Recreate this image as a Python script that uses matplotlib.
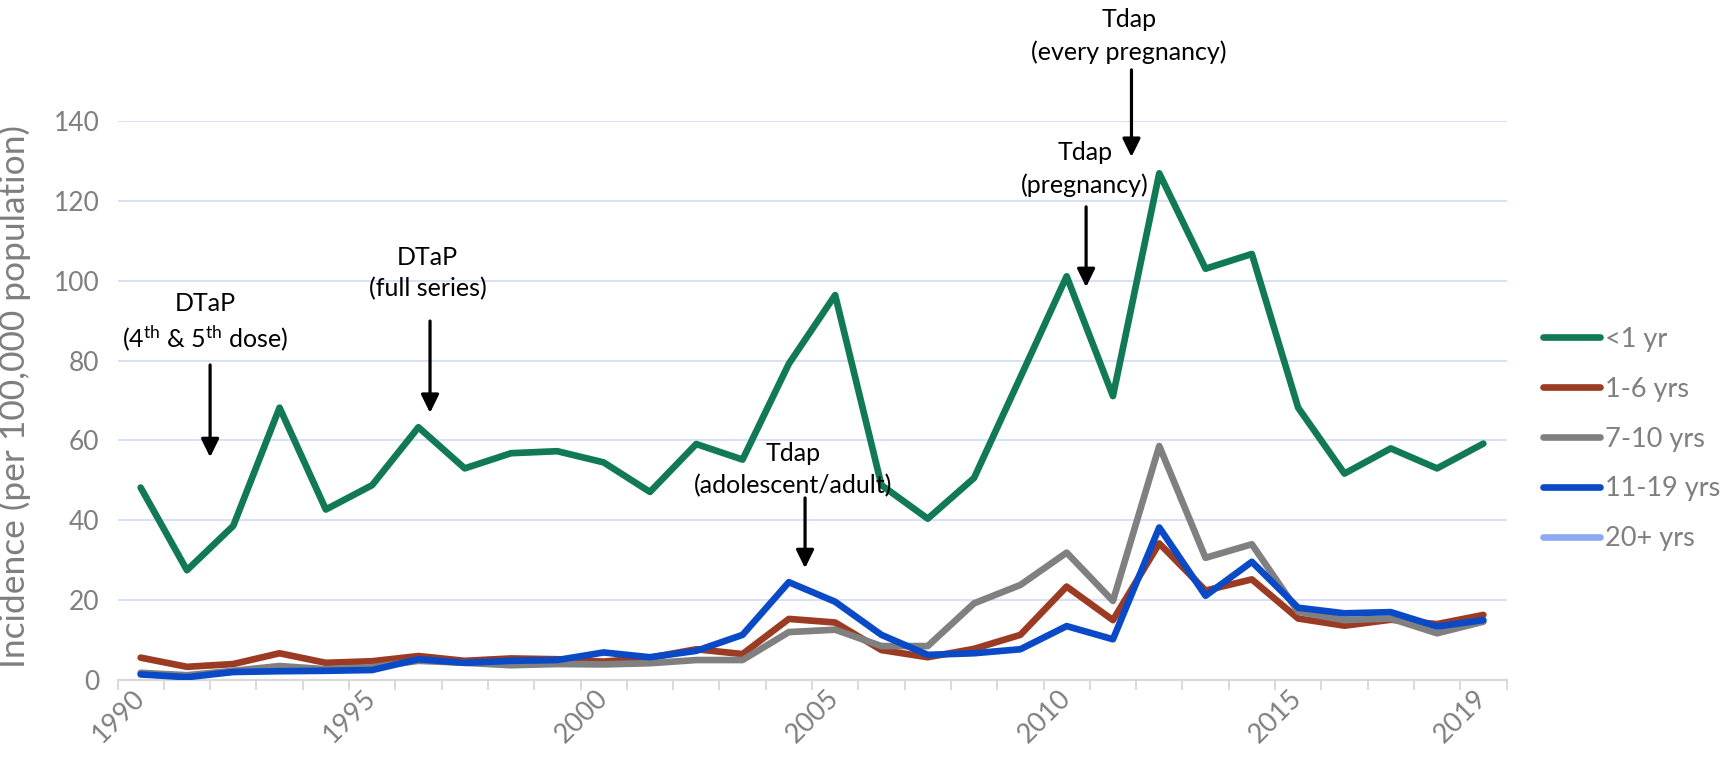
import numpy as np
import matplotlib
matplotlib.use("Agg")
import matplotlib.pyplot as plt
from matplotlib.ticker import FixedLocator, MultipleLocator

plt.rcParams['font.family'] = ['Lato', 'DejaVu Sans']
plt.rcParams['mathtext.fontset'] = 'custom'
plt.rcParams['mathtext.rm'] = 'Lato'
plt.rcParams['mathtext.it'] = 'Lato:italic'
plt.rcParams['mathtext.bf'] = 'Lato:bold'

# Pertussis incidence per 100,000 population, by age group
years = list(range(1990, 2020))
under_1 = [48.2, 27.5, 38.6, 68.2, 42.7, 48.8, 63.3, 53.0, 56.8, 57.3,
           54.5, 47.1, 59.1, 55.2, 79.2, 96.4, 48.8, 40.4, 50.6, 75.8,
           101.1, 71.1, 126.9, 103.0, 106.7, 68.2, 51.7, 58.0, 53.0, 59.2]
age_1_6 = [5.6, 3.3, 4.0, 6.7, 4.3, 4.7, 6.0, 4.8, 5.4, 5.2,
           4.6, 5.6, 7.7, 6.5, 15.3, 14.4, 7.5, 5.7, 7.8, 11.3,
           23.4, 15.0, 34.2, 22.4, 25.2, 15.4, 13.6, 15.1, 14.0, 16.3]
age_7_10 = [1.8, 1.2, 2.3, 3.5, 2.7, 3.2, 4.8, 4.3, 3.7, 4.0,
            3.9, 4.2, 5.0, 5.0, 12.0, 12.6, 8.5, 8.5, 19.2, 23.8,
            31.9, 19.8, 58.6, 30.6, 34.0, 17.1, 15.0, 15.4, 11.7, 14.6]
age_11_19 = [1.4, 0.7, 2.0, 2.2, 2.3, 2.5, 5.2, 4.3, 4.8, 5.0,
             6.9, 5.7, 7.3, 11.3, 24.5, 19.6, 11.3, 6.3, 6.7, 7.7,
             13.5, 10.2, 38.2, 21.1, 29.6, 18.1, 16.7, 17.0, 13.4, 15.0]

series_labels = ['<1 yr', '1-6 yrs', '7-10 yrs', '11-19 yrs', '20+ yrs']
series_colors = ['#117A55', '#9C3B23', '#808080', '#0B4AC6', '#8EA9EF']
year_labels = [1990, 1995, 2000, 2005, 2010, 2015, 2019]

# Vaccine policy milestones
events_x = [1991.5, 1996.25, 2004.35, 2010.42, 2011.4]
events_title = ['DTaP', 'DTaP', 'Tdap', 'Tdap', 'Tdap']
events_sub = [r'(4$^{\mathrm{th}}$ & 5$^{\mathrm{th}}$ dose)', '(full series)',
              '(adolescent/adult)', '(pregnancy)', '(every pregnancy)']

W, H = 1728, 763
fig = plt.figure(figsize=(W / 100, H / 100), dpi=100)
ax = fig.add_axes([117.5 / W, 1 - 680 / H, 1389 / W, 559 / H])

grey_txt = '#7F7F7F'
axis_col = '#D9D9D9'

series = [under_1, age_1_6, age_7_10, age_11_19]
for vals, lab, col in zip(series, series_labels[:4], series_colors[:4]):
    ax.plot(years, vals, color=col, lw=4.8, label=lab,
            solid_joinstyle='round', solid_capstyle='round', zorder=3)
ax.plot([], [], color=series_colors[4], lw=4.8, label=series_labels[4],
        solid_capstyle='round')

ax.set_xlim(1989.5, 2019.5)
ax.set_ylim(0, 140)

# gridlines
ax.yaxis.set_major_locator(MultipleLocator(20))
for v in range(20, 141, 20):
    ax.axhline(v, color='#D6E0F5', lw=1.4, zorder=1)

for s in ['top', 'right', 'left']:
    ax.spines[s].set_visible(False)
ax.spines['bottom'].set_color(axis_col)
ax.spines['bottom'].set_linewidth(1.6)
ax.spines['bottom'].set_zorder(2)

ax.xaxis.set_major_locator(FixedLocator(year_labels))
ax.xaxis.set_minor_locator(FixedLocator(np.arange(1989.5, 2020, 1.0)))
ax.tick_params(axis='x', which='major', length=0, pad=10, labelsize=19.5,
               labelcolor=grey_txt)
ax.tick_params(axis='x', which='minor', length=7.5, width=1.4, color=axis_col)
for lbl in ax.get_xticklabels():
    lbl.set_rotation(45)
    lbl.set_ha('right')
    lbl.set_va('center')
    lbl.set_rotation_mode('anchor')
ax.tick_params(axis='y', length=0, pad=13, labelsize=19, labelcolor=grey_txt)

ax.set_ylabel('Incidence (per 100,000 population)', fontsize=25.5, color=grey_txt)
ax.yaxis.set_label_coords(-0.062, 0.507)

# annotations
title_y = [94.4, 105.9, 56.8, 132.2, 165.5]
sub_y = [85.6, 97.9, 48.8, 124.0, 157.3]
arrow_top = [78.9, 89.9, 45.6, 118.5, 152.8]
arrow_bot = [55.8, 66.9, 28.0, 98.4, 131.0]
text_dx = [-0.1, -0.05, -0.25, -0.03, -0.06]
for x, t, s, ty, sy, a0, a1, dx in zip(events_x, events_title, events_sub,
                                       title_y, sub_y, arrow_top, arrow_bot, text_dx):
    ax.text(x + dx, ty, t, ha='center', va='center', fontsize=18, color='black',
            clip_on=False, zorder=5)
    ax.text(x + dx, sy, s, ha='center', va='center', fontsize=18, color='black',
            clip_on=False, zorder=5)
    ax.annotate('', xy=(x, a1), xytext=(x, a0),
                arrowprops=dict(arrowstyle='-|>,head_width=0.27,head_length=0.55',
                                lw=2.3, color='black', shrinkA=0, shrinkB=0,
                                mutation_scale=20),
                annotation_clip=False, zorder=5)

leg = ax.legend(loc='center left', bbox_to_anchor=(1543 / W, 1 - 439 / H),
                bbox_transform=fig.transFigure, frameon=False, fontsize=19.5,
                handlelength=2.1, handletextpad=0.2, labelspacing=0.92,
                borderpad=0, borderaxespad=0)
for txt in leg.get_texts():
    txt.set_color(grey_txt)

fig.savefig('out.png', dpi=100)
